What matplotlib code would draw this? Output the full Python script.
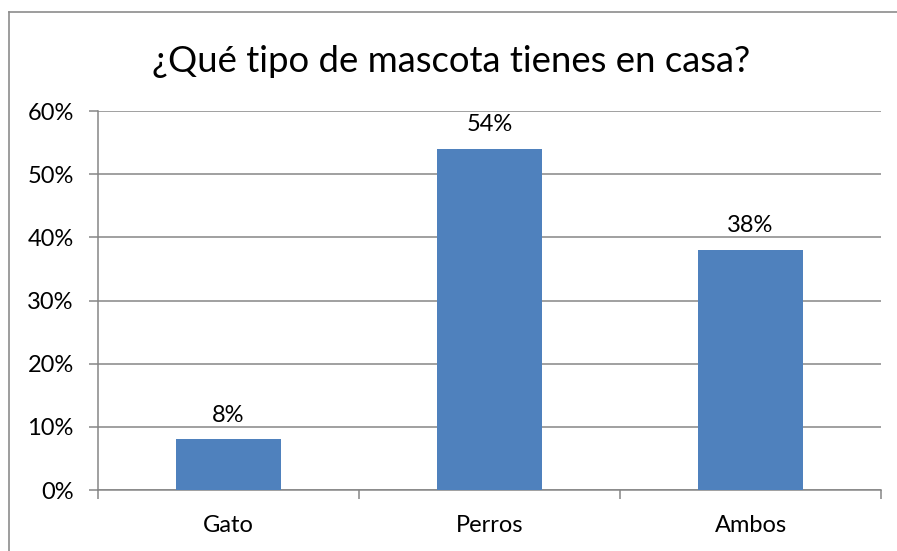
import matplotlib.pyplot as plt
from matplotlib.lines import Line2D
from matplotlib.ticker import FixedLocator

categories = ['Gato', 'Perros', 'Ambos']
values = [8, 54, 38]
y_ticks = [0, 10, 20, 30, 40, 50, 60]
title = '¿Qué tipo de mascota tienes en casa?'

plt.rcParams['font.family'] = ['Lato', 'DejaVu Sans']
grey = '#868686'
bar_color = '#4F81BD'

fig = plt.figure(figsize=(8.97, 5.51), dpi=100)
ax = fig.add_axes([0.1093, 0.1107, 0.9822 - 0.1093, 0.7985 - 0.1107])

x = list(range(len(categories)))
bars = ax.bar(x, values, width=0.4, color=bar_color, zorder=3)
for b, v in zip(bars, values):
    ax.annotate(f'{v}%', (b.get_x() + b.get_width() / 2, v),
                xytext=(0, 10), textcoords='offset points',
                ha='center', va='bottom', fontsize=17)

ax.set_xlim(-0.5, len(categories) - 0.5)
ax.set_ylim(0, 60)
ax.set_yticks(y_ticks)
ax.set_yticklabels([f'{t}%' for t in y_ticks], fontsize=17)
ax.yaxis.grid(True, color=grey, linewidth=1.1, zorder=0)
ax.set_xticks(x)
ax.set_xticklabels(categories, fontsize=17)
ax.xaxis.set_minor_locator(FixedLocator([i - 0.5 for i in range(len(categories) + 1)]))
ax.tick_params(axis='x', which='major', length=0, pad=18)
ax.tick_params(axis='x', which='minor', length=6.5, width=1.1, color=grey, direction='out')
ax.tick_params(axis='y', length=6.5, width=1.1, color=grey, pad=11)
for s in ['top', 'right']:
    ax.spines[s].set_visible(False)
for s in ['left', 'bottom']:
    ax.spines[s].set_color(grey)
    ax.spines[s].set_linewidth(1.1)

fig.text(0.503, 0.888, title, ha='center', va='center', fontsize=26.3)

# chart frame (left and top edge visible in the crop)
fig.add_artist(Line2D([9 / 897, 9 / 897], [0, 1 - 12 / 551], color='#8c8c8c', linewidth=1.2,
                      transform=fig.transFigure))
fig.add_artist(Line2D([9 / 897, 1], [1 - 12 / 551, 1 - 12 / 551], color='#8c8c8c', linewidth=1.2,
                      transform=fig.transFigure))

fig.savefig('out.png', dpi=100)
